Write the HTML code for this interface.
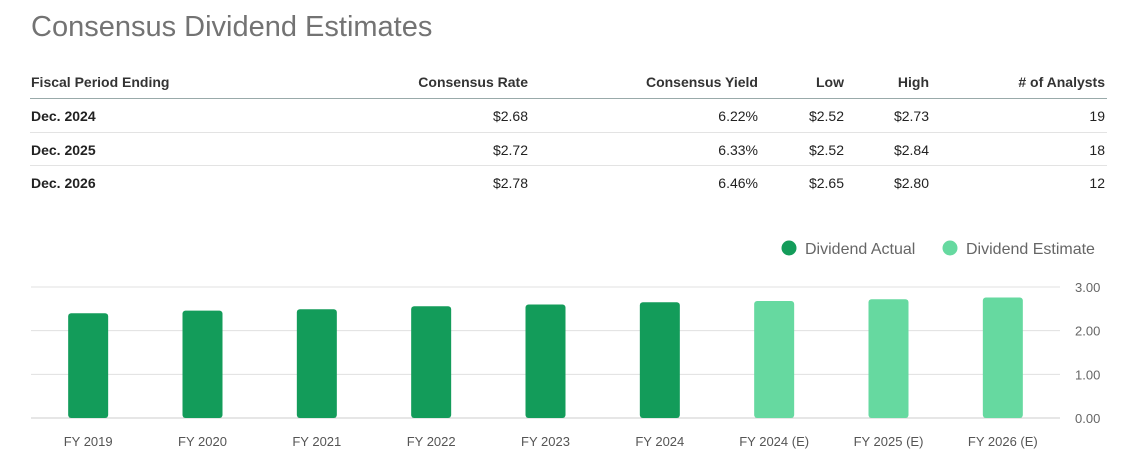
<!DOCTYPE html>
<html><head><meta charset="utf-8"><style>
body{margin:0;width:1121px;height:464px;background:#fff;font-family:"Liberation Sans",Arial,sans-serif;position:relative;overflow:hidden}
h1{position:absolute;left:31px;top:11px;margin:0;font-weight:normal;font-size:29px;color:#737373}
.hline{position:absolute;left:30px;width:1077px;height:1px;background:#e3e3e3}
.cell{position:absolute;font-size:14px;color:#222;white-space:nowrap}
</style></head><body>
<h1>Consensus Dividend Estimates</h1>
<div id="table"></div>
<svg id="chart" width="1121" height="464" style="position:absolute;left:0;top:0"></svg>
<script>
const headers=["Fiscal Period Ending","Consensus Rate","Consensus Yield","Low","High","# of Analysts"];
const rows=[["Dec. 2024","$2.68","6.22%","$2.52","$2.73","19"],["Dec. 2025","$2.72","6.33%","$2.52","$2.84","18"],["Dec. 2026","$2.78","6.46%","$2.65","$2.80","12"]];
const colRight=[null,528,758,844,929,1105];
const tb=document.getElementById('table');
function addCell(txt,ci,y,bold,name){
 const d=document.createElement('div');d.className='cell';d.textContent=txt;
 d.style.top=y+'px';
 if(ci===0){d.style.left='31px'}else{d.style.right=(1121-colRight[ci])+'px'}
 if(bold){d.style.fontWeight='bold'}
 
 
 tb.appendChild(d);
}
headers.forEach((h,i)=>{addCell(h,i,74,true,'column-header');});
const lines=[98,132,165];
lines.forEach((y,i)=>{const l=document.createElement('div');l.className='hline';l.style.top=y+'px';if(i===0)l.style.background='#9aa';


tb.appendChild(l);});
rows.forEach((r,ri)=>{r.forEach((v,ci)=>addCell(v,ci,108+ri*33.5,ci===0,ci===0?'period-cell':'value-cell'));});
document.querySelectorAll('.cell').forEach(c=>{if(c.style.top==='74px'){c.style.color='#333'}});
</script>
<script>
const categories=["FY 2019","FY 2020","FY 2021","FY 2022","FY 2023","FY 2024","FY 2024 (E)","FY 2025 (E)","FY 2026 (E)"];
const values=[2.40,2.46,2.49,2.56,2.60,2.65,2.68,2.72,2.76];
const isEstimate=[false,false,false,false,false,false,true,true,true];
const yTicks=[0,1,2,3];
const yTickLabels=["0.00","1.00","2.00","3.00"];
const NS="http://www.w3.org/2000/svg";
const svg=document.getElementById('chart');
const L=31,R=1060,Y0=418,Y3=287,yMax=3;
const y=v=>Y0-(Y0-Y3)*v/yMax;
const band=(R-L)/categories.length;
const x=i=>L+band*(i+0.5);
function el(t,a){const e=document.createElementNS(NS,t);for(const k in a)e.setAttribute(k,a[k]);svg.appendChild(e);return e;}
yTicks.forEach((t,i)=>{
 const g=el('line',{x1:L,x2:R,y1:y(t),y2:y(t),stroke:t===0?'#ccc':'#e0e0e0','stroke-width':1});
 
 
 const tx=el('text',{x:1075,y:y(t)+5,'font-size':13,fill:'#666','font-family':'Liberation Sans, sans-serif'});
 tx.textContent=yTickLabels[i];
 
 
});
values.forEach((v,i)=>{
 const b=el('rect',{x:x(i)-20,y:y(v),width:40,height:Y0-y(v),rx:3,fill:isEstimate[i]?'#66d9a0':'#139c5a'});
 
 
 const c=el('text',{x:x(i),y:446,'font-size':13,fill:'#555','text-anchor':'middle','font-family':'Liberation Sans, sans-serif'});
 c.textContent=categories[i];
 
 
});
const leg=[["Dividend Actual","#139c5a",789],["Dividend Estimate","#66d9a0",950]];
leg.forEach(l=>{
 const c=el('circle',{cx:l[2],cy:248,r:7.5,fill:l[1]});
 
 
 const t=el('text',{x:l[2]+16,y:254,'font-size':16,fill:'#666','font-family':'Liberation Sans, sans-serif'});
 t.textContent=l[0];
 
 
});
</script>
</body></html>
